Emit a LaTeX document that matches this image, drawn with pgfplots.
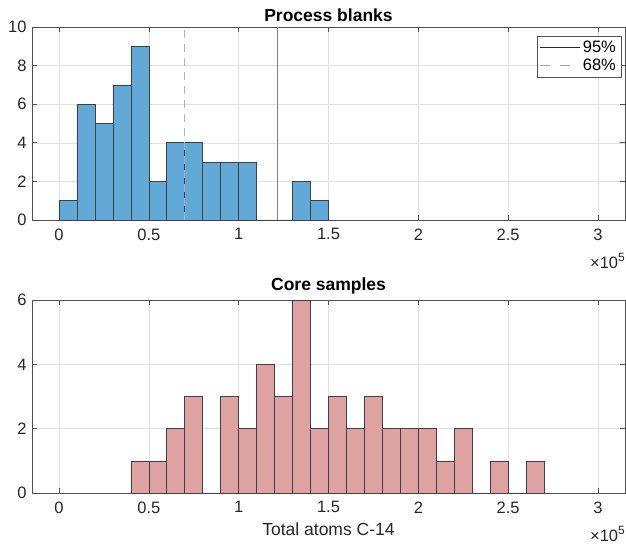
\documentclass[border=0pt]{standalone}
\usepackage{fontspec}
\setmainfont{Liberation Sans}
\usepackage{pgfplots}
\pgfplotsset{compat=1.18}
\definecolor{barblue}{RGB}{99,169,215}
\definecolor{barred}{RGB}{222,162,162}
\definecolor{axcol}{RGB}{38,38,38}
\newcommand{\xtenfive}{\fontsize{16.5}{18}\selectfont ×10\raisebox{0.42em}{\fontsize{12}{13}\selectfont 5}}
\pgfplotsset{
  mystyle/.style={
    scale only axis, width=593pt, height=193pt,
    xmin=-0.15, xmax=3.15,
    xtick={0,0.5,1,1.5,2,2.5,3},
    xticklabels={0,0.5,1,1.5,2,2.5,3},
    ymin=0, clip=false,
    grid=major,
    major grid style={draw=black!12, line width=0.5pt},
    axis line style={draw=axcol!80, line width=0.6pt},
    tick style={draw=axcol!80, line width=0.6pt},
    major tick length=5pt,
    tick align=inside,
    xtick pos=both, ytick pos=both,
    /pgf/number format/assume math mode=true,
    tick label style={font=\fontsize{16.5}{18}\selectfont, text=axcol},
    title style={font=\fontsize{17.5}{20}\selectfont\bfseries, yshift=-4pt},
    label style={font=\fontsize{17.5}{20}\selectfont, text=axcol},
    xticklabel style={yshift=-5pt},
    yticklabel style={xshift=-2pt},
  },
  histb/.style={ybar interval, draw=black!75, line width=0.6pt, fill=barblue},
  histr/.style={ybar interval, draw=black!75, line width=0.6pt, fill=barred},
}
\begin{document}
\begin{tikzpicture}[x=1pt,y=1pt]
\path[use as bounding box] (0,0) rectangle (626,545);
\begin{axis}[mystyle, at={(32pt,325pt)}, anchor=south west,
  ymax=10, ytick={0,2,4,6,8,10},
  title={Process blanks},
  legend style={at={(rel axis cs:0.9935,0.955)}, anchor=north east,
    draw=axcol!80, line width=0.6pt, font=\fontsize{16.5}{17}\selectfont,
    inner xsep=3pt, inner ysep=3pt, row sep=1pt, legend cell align=left},
  ]
\addplot[histb, forget plot] coordinates {
(0.0,1) (0.1,6) (0.2,5) (0.3,7) (0.4,9) (0.5,2) (0.6,4) (0.7,4)
(0.8,3) (0.9,3) (1.0,3) (1.1,0) (1.2,0) (1.3,2) (1.4,1) (1.5,1)};
\addplot[draw=black!50, line width=0.9pt,
  legend image code/.code={\draw[draw=axcol, line width=0.6pt] (0pt,0pt) -- (40pt,0pt);}]
  coordinates {(1.216,0) (1.216,10)};
\addlegendentry{95\%}
\addplot[draw=black!30, line width=0.9pt, dash pattern=on 8pt off 6pt,
  legend image code/.code={\draw[draw=black!35, line width=0.9pt, dash pattern=on 10pt off 10pt] (0pt,0pt) -- (40pt,0pt);}]
  coordinates {(0.699,0) (0.699,10)};
\addlegendentry{68\%}
\node[anchor=north east, text=axcol, inner sep=0pt] at ([yshift=-33pt,xshift=0pt]rel axis cs:1,0) {\xtenfive};
\end{axis}
\begin{axis}[mystyle, at={(32pt,52pt)}, anchor=south west,
  ymax=6, ytick={0,2,4,6},
  title={Core samples},
  xlabel={Total atoms C-14},
  xlabel style={yshift=-3pt},
  ]
\addplot[histr] coordinates {
(0.4,1) (0.5,1) (0.6,2) (0.7,3) (0.8,0) (0.9,3) (1.0,2) (1.1,4) (1.2,3)
(1.3,6) (1.4,2) (1.5,3) (1.6,2) (1.7,3) (1.8,2) (1.9,2) (2.0,2) (2.1,1)
(2.2,2) (2.3,0) (2.4,1) (2.5,0) (2.6,1) (2.7,1)};
\node[anchor=north east, text=axcol, inner sep=0pt] at ([yshift=-33pt,xshift=0pt]rel axis cs:1,0) {\xtenfive};
\end{axis}
\end{tikzpicture}
\end{document}
